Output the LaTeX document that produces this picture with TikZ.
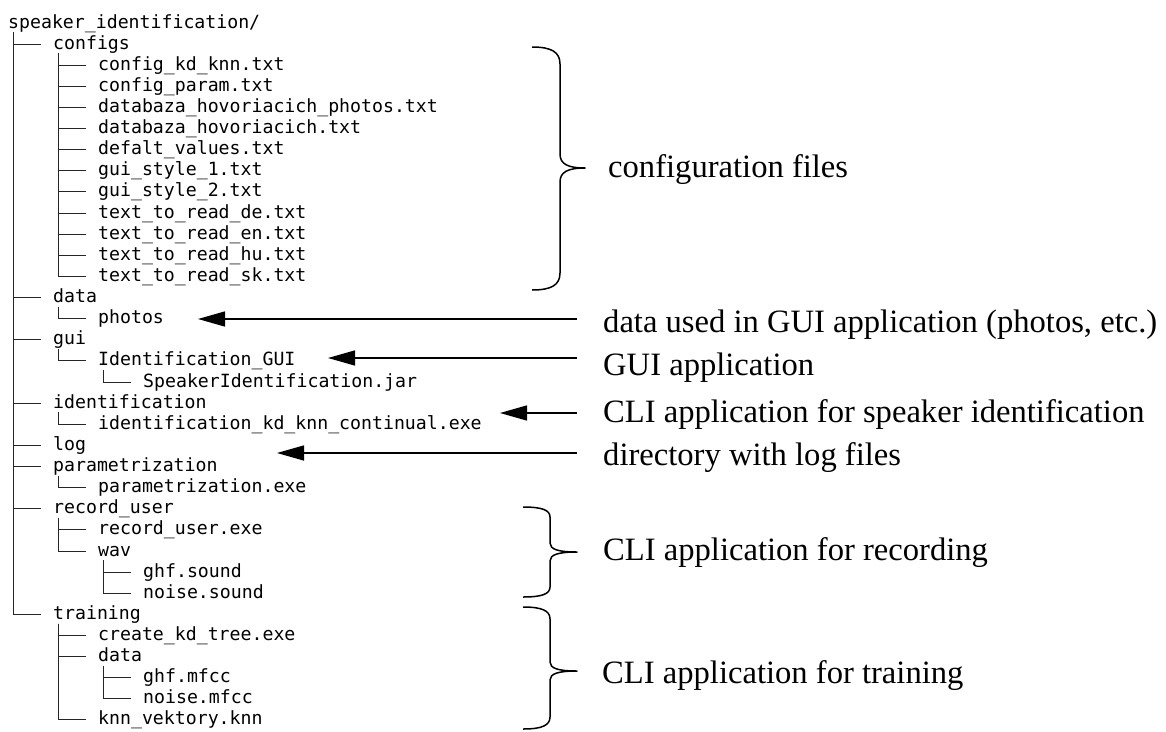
\documentclass[tikz,border=0pt]{standalone}
\usepackage{fontspec}
\setmonofont{DejaVu Sans Mono}
\newfontfamily\notefamily{Liberation Serif}
\usetikzlibrary{arrows.meta}

\newcommand\treefont{\ttfamily\fontsize{18.2}{21}\selectfont}
\newcommand\notefont{\notefamily\fontsize{32.6}{36}\selectfont}

% curly brace: x of ends, x of spine, x of tip, top y, tip y, bottom y, end curl, middle curl
\newcommand\drawcurly[8]{%
  \draw[bracestyle] (#1,#4)
    .. controls ({#1+0.7*(#2-#1)},#4) and (#2,{#4+0.3*#7}) .. (#2,{#4+#7})
    -- (#2,{#5-#8})
    .. controls (#2,{#5-0.3*#8}) and ({#2+0.3*(#3-#2)},#5) .. (#3,#5)
    .. controls ({#2+0.3*(#3-#2)},#5) and (#2,{#5+0.3*#8}) .. (#2,{#5+#8})
    -- (#2,{#6-#7})
    .. controls (#2,{#6-0.3*#7}) and ({#1+0.7*(#2-#1)},#6) .. (#1,#6);}

\begin{document}
\begin{tikzpicture}[x=1pt,y=-1pt,
  entry/.style={font=\treefont, anchor=west, inner sep=0pt,
    text height=10pt, text depth=0pt},
  branch/.style={draw=black!85, line width=1pt},
  note/.style={font=\notefont, anchor=base west, inner sep=0pt},
  pointer/.style={draw, line width=1.5pt, -{Triangle[length=27pt,width=15pt]}},
  bracestyle/.style={draw, line width=1.5pt, line join=round}]

\useasboundingbox (0,0) rectangle (1166,731);

% directory tree
\node[entry] (root)   at (8,23.00)  {speaker\_identification/};
\node[entry] (configs) at (53,44.12) {configs};
\node[entry] (c1)  at (98,65.24)  {config\_kd\_knn.txt};
\node[entry] (c2)  at (98,86.36)  {config\_param.txt};
\node[entry] (c3)  at (98,107.48) {databaza\_hovoriacich\_photos.txt};
\node[entry] (c4)  at (98,128.60) {databaza\_hovoriacich.txt};
\node[entry] (c5)  at (98,149.72) {defalt\_values.txt};
\node[entry] (c6)  at (98,170.84) {gui\_style\_1.txt};
\node[entry] (c7)  at (98,191.96) {gui\_style\_2.txt};
\node[entry] (c8)  at (98,213.08) {text\_to\_read\_de.txt};
\node[entry] (c9)  at (98,234.20) {text\_to\_read\_en.txt};
\node[entry] (c10) at (98,255.32) {text\_to\_read\_hu.txt};
\node[entry] (c11) at (98,276.44) {text\_to\_read\_sk.txt};
\node[entry] (data)   at (53,297.56) {data};
\node[entry] (photos) at (98,318.68) {photos};
\node[entry] (gui)    at (53,339.80) {gui};
\node[entry] (idgui)  at (98,360.92) {Identification\_GUI};
\node[entry] (jar)    at (143,382.04) {SpeakerIdentification.jar};
\node[entry] (ident)  at (53,403.16) {identification};
\node[entry] (identexe) at (98,424.28) {identification\_kd\_knn\_continual.exe};
\node[entry] (log)    at (53,445.40) {log};
\node[entry] (param)  at (53,466.52) {parametrization};
\node[entry] (paramexe) at (98,487.64) {parametrization.exe};
\node[entry] (rec)    at (53,508.76) {record\_user};
\node[entry] (recexe) at (98,529.88) {record\_user.exe};
\node[entry] (wav)    at (98,551.00) {wav};
\node[entry] (ghfsound)   at (143,572.12) {ghf.sound};
\node[entry] (noisesound) at (143,593.24) {noise.sound};
\node[entry] (train)  at (53,614.36) {training};
\node[entry] (kdtree) at (98,635.48) {create\_kd\_tree.exe};
\node[entry] (tdata)  at (98,656.60) {data};
\node[entry] (ghfmfcc)   at (143,677.72) {ghf.mfcc};
\node[entry] (noisemfcc) at (143,698.84) {noise.mfcc};
\node[entry] (knn)    at (98,719.96) {knn\_vektory.knn};

\foreach \p/\c in {root/configs, root/data, root/gui, root/ident, root/log,
    root/param, root/rec, root/train,
    configs/c1, configs/c2, configs/c3, configs/c4, configs/c5, configs/c6,
    configs/c7, configs/c8, configs/c9, configs/c10, configs/c11,
    data/photos, gui/idgui, idgui/jar, ident/identexe, param/paramexe,
    rec/recexe, rec/wav, wav/ghfsound, wav/noisesound,
    train/kdtree, train/tdata, tdata/ghfmfcc, tdata/noisemfcc, train/knn}
  \draw[branch] ([xshift=5.5pt,yshift=-4pt]\p.south west) |- ([xshift=-12pt]\c.west);

% descriptions
\node[note] (lconf)  at (608,177) {configuration files};
\node[note] (lphoto) at (603,332) {data used in GUI application (photos, etc.)};
\node[note] (lgui)   at (603,375) {GUI application};
\node[note] (lcli)   at (603,422) {CLI application for speaker identification};
\node[note] (llog)   at (603,465) {directory with log files};
\node[note] (lrec)   at (603,560) {CLI application for recording};
\node[note] (ltrain) at (602,683) {CLI application for training};

% pointers from descriptions into the tree
\coordinate (s1) at (577,319); \coordinate (t1) at (198,319);
\coordinate (s2) at (577,358); \coordinate (t2) at (328,358);
\coordinate (s3) at (577,413); \coordinate (t3) at (500,413);
\coordinate (s4) at (577,453); \coordinate (t4) at (277,453);
\draw[pointer] (s1) -- (t1);
\draw[pointer] (s2) -- (t2);
\draw[pointer] (s3) -- (t3);
\draw[pointer] (s4) -- (t4);

% braces grouping the folders
\drawcurly{532}{560}{585}{47}{168}{290}{17}{14}
\drawcurly{523}{550}{577}{507}{552}{597}{10}{9}
\drawcurly{523}{550}{577}{607}{671}{729}{12}{9}

\end{tikzpicture}
\end{document}
